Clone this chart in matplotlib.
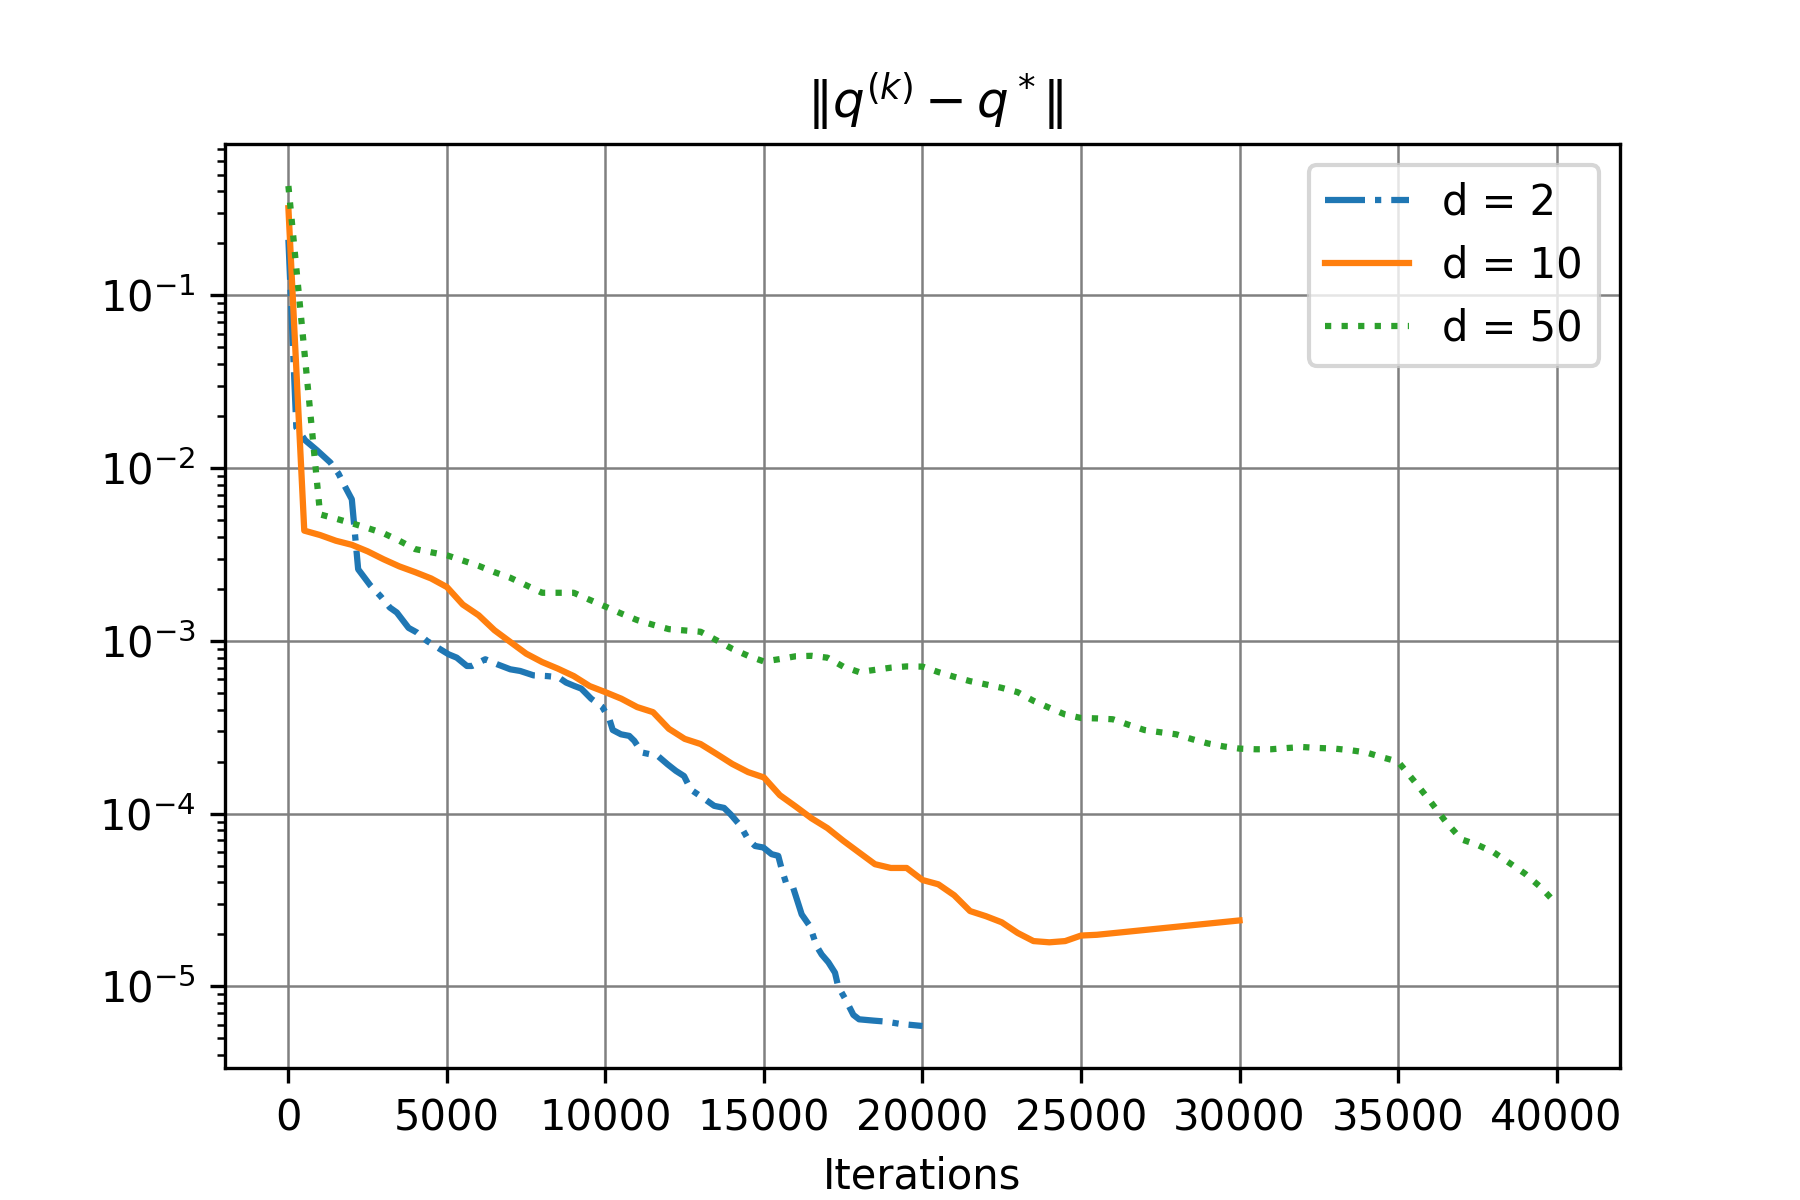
import matplotlib
matplotlib.use("Agg")
import matplotlib.pyplot as plt

# d = 2
x_d2 = [0, 250, 530, 900, 1320, 1580, 1790, 2000, 2200, 2580, 2900, 3200, 3420, 3790,
        4050, 4370, 4790, 5050, 5310, 5630, 5790, 6210, 6580, 7000, 7310, 7730, 8150,
        8510, 8760, 9025, 9235, 9550, 9900, 10125, 10230, 10490, 10750, 10910, 11150,
        11650, 11960, 12220, 12480, 12690, 13060, 13430, 13740, 13950, 14260, 14500,
        14720, 14980, 15240, 15450, 15560, 15710, 15920, 16190, 16450, 16660, 16820,
        17030, 17240, 17340, 17580, 17820, 18000, 18450, 18830, 19290, 20000]
y_d2 = [0.21, 0.0172, 0.0145, 0.0127, 0.0108, 0.0093, 0.0078, 0.0066, 0.0026, 0.0021,
        0.00182, 0.00156, 0.00146, 0.00119, 0.00112, 0.00100, 8.95e-4, 8.37e-4, 8.0e-4,
        7.16e-4, 7.16e-4, 7.83e-4, 7.33e-4, 6.85e-4, 6.7e-4, 6.32e-4, 6.26e-4, 6.17e-4,
        5.74e-4, 5.48e-4, 5.3e-4, 4.63e-4, 4.15e-4, 3.52e-4, 3.05e-4, 2.88e-4, 2.82e-4,
        2.64e-4, 2.26e-4, 2.16e-4, 1.93e-4, 1.77e-4, 1.65e-4, 1.38e-4, 1.24e-4, 1.11e-4,
        1.08e-4, 9.9e-5, 8.5e-5, 7.1e-5, 6.5e-5, 6.37e-5, 5.83e-5, 5.7e-5, 4.77e-5,
        3.9e-5, 3.73e-5, 2.61e-5, 2.23e-5, 1.71e-5, 1.53e-5, 1.38e-5, 1.2e-5, 1.0e-5,
        8.36e-6, 6.84e-6, 6.45e-6, 6.34e-6, 6.26e-6, 6.07e-6, 5.9e-6]

# d = 10
x_d10 = [0, 500, 1000, 1500, 2000, 2500, 3000, 3500, 4000, 4500, 5000, 5500, 6000, 6500,
         7000, 7500, 8000, 8500, 9000, 9500, 10000, 10500, 11000, 11500, 12000, 12500,
         13000, 13500, 14000, 14500, 15000, 15500, 16000, 16500, 17000, 17500, 18000,
         18500, 19000, 19500, 20000, 20500, 21000, 21500, 22000, 22500, 23000, 23500,
         24000, 24500, 25000, 25500, 30000]
y_d10 = [0.32, 0.00435, 0.0041, 0.0038, 0.0036, 0.0033, 0.00297, 0.0027, 0.0025, 0.0023,
         0.00205, 1.624e-3, 1.408e-3, 1.153e-3, 9.86e-4, 8.44e-4, 7.55e-4, 6.91e-4,
         6.26e-4, 5.48e-4, 5.05e-4, 4.63e-4, 4.14e-4, 3.87e-4, 3.10e-4, 2.71e-4, 2.53e-4,
         2.22e-4, 1.94e-4, 1.74e-4, 1.62e-4, 1.28e-4, 1.10e-4, 9.4e-5, 8.25e-5, 6.97e-5,
         5.96e-5, 5.10e-5, 4.85e-5, 4.85e-5, 4.13e-5, 3.90e-5, 3.37e-5, 2.73e-5, 2.55e-5,
         2.35e-5, 2.04e-5, 1.83e-5, 1.80e-5, 1.83e-5, 1.97e-5, 1.99e-5, 2.41e-5]

# d = 50
x_d50 = [0, 1000, 1500, 2000, 2500, 3000, 3500, 4000, 4500, 5000, 5500, 6000, 6500, 7000,
         7500, 8000, 8500, 9000, 9500, 10000, 10500, 11000, 11500, 12000, 12500, 13000,
         13500, 14000, 14500, 15000, 15500, 16000, 16500, 17000, 17500, 18000, 18500,
         19000, 19500, 20000, 20500, 21000, 21500, 22000, 22500, 23000, 23500, 24000,
         24500, 25000, 25500, 26000, 26500, 27000, 27500, 28000, 28500, 29000, 29500,
         30000, 30500, 31000, 31500, 32000, 32500, 33000, 33500, 34000, 34500, 35000,
         35500, 36000, 36500, 37000, 37500, 38000, 38500, 39000, 39500, 40000]
y_d50 = [0.43, 0.0054, 0.0051, 0.0048, 0.0045, 0.0042, 0.0038, 0.0034, 0.00326, 0.00313,
         0.00292, 0.00272, 0.0025, 0.00232, 0.0021, 0.0019, 0.0019, 0.0019, 0.00173,
         0.00158, 0.00144, 0.00132, 0.00124, 0.00117, 0.00115, 0.00113, 0.00101, 9.0e-4,
         8.2e-4, 7.6e-4, 7.85e-4, 8.15e-4, 8.2e-4, 8.0e-4, 7.1e-4, 6.6e-4, 6.8e-4, 7.0e-4,
         7.12e-4, 7.1e-4, 6.6e-4, 6.2e-4, 5.85e-4, 5.6e-4, 5.35e-4, 5.05e-4, 4.5e-4,
         4.1e-4, 3.75e-4, 3.58e-4, 3.56e-4, 3.52e-4, 3.27e-4, 3.05e-4, 2.96e-4, 2.88e-4,
         2.7e-4, 2.55e-4, 2.45e-4, 2.38e-4, 2.36e-4, 2.36e-4, 2.4e-4, 2.43e-4, 2.4e-4,
         2.38e-4, 2.33e-4, 2.26e-4, 2.12e-4, 2.0e-4, 1.55e-4, 1.19e-4, 9.0e-5, 7.1e-5,
         6.6e-5, 6.0e-5, 5.2e-5, 4.5e-5, 3.75e-5, 3.0e-5]

labels = ["d = 2", "d = 10", "d = 50"]

fig, ax = plt.subplots(figsize=(6, 4), dpi=300)
ax.plot(x_d2, y_d2, linestyle='-.', color='#1f77b4', label=labels[0])
ax.plot(x_d10, y_d10, linestyle='-', color='#ff7f0e', label=labels[1])
ax.plot(x_d50, y_d50, linestyle=':', color='#2ca02c', label=labels[2])
ax.set_yscale('log')
ax.grid(True, which='major', color='gray', linewidth=0.6)
ax.set_title(r'$\|q^{(k)} - q^*\|$', x=0.509)
ax.set_xlabel('Iterations')
ax.legend(loc='upper right')
fig.savefig('out.png', dpi=300)
